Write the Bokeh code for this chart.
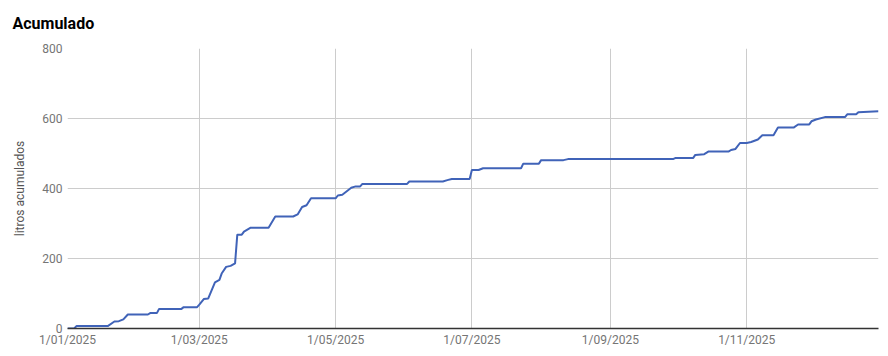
import datetime as dt
import pandas as pd
from bokeh.plotting import figure
from bokeh.models import Range1d, FixedTicker, ColumnDataSource
from bokeh.embed import file_html
from bokeh.resources import INLINE

# ---- data ----
fechas = [
    "2025-01-01", "2025-01-04", "2025-01-05", "2025-01-19", "2025-01-22", "2025-01-24",
    "2025-01-26", "2025-01-28", "2025-02-06", "2025-02-07", "2025-02-10", "2025-02-11",
    "2025-02-21", "2025-02-22", "2025-02-28", "2025-03-01", "2025-03-03", "2025-03-05",
    "2025-03-08", "2025-03-10", "2025-03-11", "2025-03-13", "2025-03-15", "2025-03-17",
    "2025-03-18", "2025-03-20", "2025-03-21", "2025-03-24", "2025-04-01", "2025-04-04",
    "2025-04-12", "2025-04-14", "2025-04-16", "2025-04-18", "2025-04-20", "2025-05-01",
    "2025-05-02", "2025-05-04", "2025-05-08", "2025-05-10", "2025-05-12", "2025-05-13",
    "2025-06-02", "2025-06-03", "2025-06-18", "2025-06-20", "2025-06-22", "2025-06-30",
    "2025-07-01", "2025-07-04", "2025-07-06", "2025-07-23", "2025-07-24", "2025-07-31",
    "2025-08-01", "2025-08-11", "2025-08-13", "2025-09-29", "2025-09-30", "2025-10-08",
    "2025-10-09", "2025-10-13", "2025-10-15", "2025-10-24", "2025-10-25", "2025-10-27",
    "2025-10-29", "2025-11-01", "2025-11-03", "2025-11-06", "2025-11-08", "2025-11-13",
    "2025-11-15", "2025-11-22", "2025-11-24", "2025-11-29", "2025-11-30", "2025-12-02",
    "2025-12-06", "2025-12-15", "2025-12-16", "2025-12-20", "2025-12-21", "2025-12-30",
]
litros = [
    0, 0, 7, 7, 20, 21,
    26, 40, 40, 44, 44, 56,
    56, 61, 61, 68, 84, 86,
    132, 139, 157, 176, 179, 186,
    268, 268, 277, 288, 288, 320,
    320, 326, 347, 352, 372, 372,
    380, 382, 402, 406, 406, 413,
    413, 420, 420, 424, 427, 427,
    453, 453, 458, 458, 471, 471,
    481, 481, 484, 484, 487, 487,
    496, 498, 506, 506, 510, 513,
    530, 530, 533, 540, 552, 552,
    574, 574, 583, 583, 592, 597,
    604, 604, 612, 612, 618, 621,
]
x_ticks = ["2025-01-01", "2025-03-01", "2025-05-01", "2025-07-01", "2025-09-01", "2025-11-01"]
x_tick_labels = ["1/01/2025", "1/03/2025", "1/05/2025", "1/07/2025", "1/09/2025", "1/11/2025"]
y_ticks = [0, 200, 400, 600, 800]

FONT = "Roboto"

def ms(s):
    return pd.Timestamp(s).value / 1e6

src = ColumnDataSource(dict(x=[pd.Timestamp(d) for d in fechas], y=litros))

p = figure(
    width=888, height=356, output_backend="svg", toolbar_location=None,
    x_axis_type="datetime",
    x_range=Range1d(pd.Timestamp("2025-01-01"), pd.Timestamp("2025-12-30")),
    y_range=Range1d(0, 800),
    min_border_left=67, min_border_right=10, min_border_top=0, min_border_bottom=28,
    title="Acumulado",
)
p.outline_line_color = None
p.background_fill_color = "white"
p.border_fill_color = "white"

p.title.text_font = FONT
p.title.text_font_size = "16px"
p.title.text_font_style = "bold"
p.title.text_color = "#000000"
p.title.align = "left"
p.title.vertical_align = "top"
p.title.offset = -55
p.title.standoff = 27

p.line("x", "y", source=src, line_color="#4063b8", line_width=2)

tick_ms = [ms(t) for t in x_ticks]
p.xaxis.ticker = FixedTicker(ticks=tick_ms)
p.xaxis.major_label_overrides = {t: lab for t, lab in zip(tick_ms, x_tick_labels)}
p.yaxis.ticker = FixedTicker(ticks=y_ticks)

for ax in (p.xaxis, p.yaxis):
    ax.major_tick_line_color = None
    ax.minor_tick_line_color = None
    ax.major_tick_out = 0
    ax.major_tick_in = 0
    ax.minor_tick_out = 0
    ax.major_label_text_font = FONT
    ax.major_label_text_font_size = "12px"
    ax.major_label_text_color = "#757575"

p.xaxis.axis_line_color = "#333333"
p.xaxis.axis_line_width = 1.5
p.xaxis.major_label_standoff = 4
p.yaxis.axis_line_color = None
p.yaxis.major_label_standoff = 5

p.yaxis.axis_label = "litros acumulados"
p.yaxis.axis_label_text_font = FONT
p.yaxis.axis_label_text_font_size = "12px"
p.yaxis.axis_label_text_font_style = "normal"
p.yaxis.axis_label_text_color = "#555555"
p.yaxis.axis_label_standoff = 12

p.xgrid.grid_line_color = "#cccccc"
p.ygrid.grid_line_color = "#cccccc"
p.xgrid.ticker = FixedTicker(ticks=tick_ms)
p.ygrid.ticker = FixedTicker(ticks=y_ticks)

open("out.html", "w").write(file_html(p, INLINE))
